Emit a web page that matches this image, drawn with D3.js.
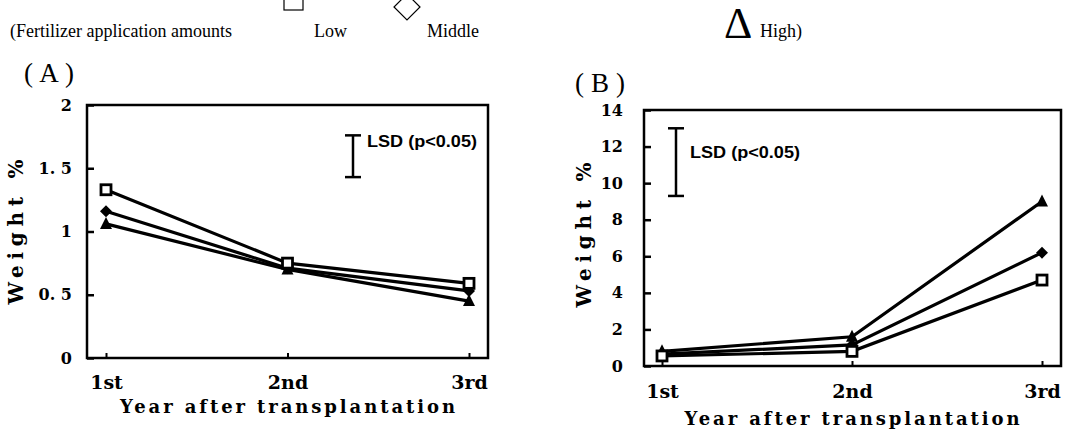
<!DOCTYPE html>
<html>
<head>
<meta charset="utf-8">
<script src="https://cdn.jsdelivr.net/npm/d3@7"></script>
<style>
  body { margin: 0; background: #fff; }
  svg { display: block; }
  .tick text { font-family: "DejaVu Serif", serif; font-weight: bold; }
</style>
</head>
<body>
<svg id="chart" width="1076" height="431"></svg>
<script>
const years = ["1st", "2nd", "3rd"];
const levels = ["Low", "Middle", "High"];

// panel A
const aLow = [1.33, 0.75, 0.59];
const aMid = [1.16, 0.71, 0.53];
const aHigh = [1.06, 0.70, 0.45];
const aTicks = [0, 0.5, 1, 1.5, 2];
const aTickLabels = ["0", "0. 5", "1", "1. 5", "2"];
const aLsd = [1.76, 1.43];

// panel B
const bLow = [0.55, 0.8, 4.7];
const bMid = [0.65, 1.15, 6.2];
const bHigh = [0.8, 1.6, 9.0];
const bTicks = [0, 2, 4, 6, 8, 10, 12, 14];
const bLsd = [13.0, 9.3];

const svg = d3.select("#chart");

// header legend
const head = svg.append("g").attr("font-family", "Liberation Serif, serif").attr("fill", "#000");
head.append("text").attr("x", 10).attr("y", 37).attr("font-size", 18).text("(Fertilizer application amounts");
head.append("rect").attr("x", 284).attr("y", -9).attr("width", 19).attr("height", 19)
  .attr("fill", "none").attr("stroke", "#000").attr("stroke-width", 1.2);
head.append("text").attr("x", 314).attr("y", 37).attr("font-size", 18).text("Low");
head.append("path").attr("d", "M407,-6 L420,7 L407,20 L394,7 Z")
  .attr("fill", "none").attr("stroke", "#000").attr("stroke-width", 1.2);
head.append("text").attr("x", 427).attr("y", 37).attr("font-size", 18).text("Middle");
head.append("text").attr("x", 724).attr("y", 38).attr("font-size", 44).text("\u0394");
head.append("text").attr("x", 760).attr("y", 37).attr("font-size", 18).text("High)");

function panel(cfg) {
  const g = svg.append("g");
  const x = d3.scalePoint().domain(years).range([cfg.px0, cfg.px1]);
  const y = d3.scaleLinear().domain(cfg.yDomain).range([cfg.bottom, cfg.top]);

  // frame
  g.append("rect")
    .attr("x", cfg.left).attr("y", cfg.top)
    .attr("width", cfg.right - cfg.left).attr("height", cfg.bottom - cfg.top)
    .attr("fill", "none").attr("stroke", "#000").attr("stroke-width", 2.5);

  // y axis, ticks pointing inward
  const yAxis = d3.axisLeft(y).tickValues(cfg.ticks)
    .tickFormat((d, i) => cfg.tickLabels[i])
    .tickSizeInner(-7).tickSizeOuter(0).tickPadding(cfg.pad);
  const ya = g.append("g").attr("transform", `translate(${cfg.left},0)`).call(yAxis);
  ya.select(".domain").remove();
  ya.selectAll(".tick line").attr("stroke-width", 2.5);
  ya.selectAll(".tick text").attr("font-size", 16);

  // x axis, small upward ticks
  const xAxis = d3.axisBottom(x).tickSizeInner(-5).tickSizeOuter(0).tickPadding(cfg.xpad);
  const xa = g.append("g").attr("transform", `translate(0,${cfg.bottom})`).call(xAxis);
  xa.select(".domain").remove();
  xa.selectAll(".tick line").attr("stroke-width", 2);
  xa.selectAll(".tick text").attr("font-size", 19);

  // axis titles
  g.append("text")
    .attr("x", (cfg.px0 + cfg.px1) / 2).attr("y", cfg.titleY)
    .attr("text-anchor", "middle")
    .attr("font-family", "DejaVu Serif, serif").attr("font-weight", "bold")
    .attr("font-size", 18).attr("textLength", 335).attr("lengthAdjust", "spacing")
    .text("Year after transplantation");
  g.append("text")
    .attr("transform", `translate(${cfg.ylabX},${cfg.ylabY}) rotate(-90)`)
    .attr("text-anchor", "middle")
    .attr("font-family", "DejaVu Serif, serif").attr("font-weight", "bold")
    .attr("font-size", 20).attr("textLength", 145).attr("lengthAdjust", "spacing")
    .text("Weight  %");

  // panel tag
  g.append("text").attr("x", cfg.tagX).attr("y", cfg.tagY)
    .attr("font-family", "Liberation Serif, serif").attr("font-size", 27)
    .attr("textLength", 50).attr("lengthAdjust", "spacing")
    .text(cfg.tag);

  // LSD bar
  const lsd = g.append("g").attr("stroke", "#000").attr("stroke-width", 2.5);
  lsd.append("line").attr("x1", cfg.lsdX).attr("x2", cfg.lsdX)
    .attr("y1", y(cfg.lsd[0])).attr("y2", y(cfg.lsd[1]));
  [0, 1].forEach(i => lsd.append("line")
    .attr("x1", cfg.lsdX - 8).attr("x2", cfg.lsdX + 8)
    .attr("y1", y(cfg.lsd[i])).attr("y2", y(cfg.lsd[i])));
  g.append("text").attr("x", cfg.lsdX + 14).attr("y", cfg.lsdTextY)
    .attr("font-family", "Liberation Sans, Arial, sans-serif").attr("font-weight", "bold")
    .attr("font-size", 17).attr("textLength", 110).attr("lengthAdjust", "spacingAndGlyphs")
    .text("LSD (p<0.05)");

  // series lines
  const line = d3.line().x((d, i) => x(years[i])).y(d => y(d));
  cfg.series.forEach(s => {
    g.append("path").datum(s.values).attr("d", line)
      .attr("fill", "none").attr("stroke", "#000").attr("stroke-width", 3.2);
  });

  // markers
  cfg.series.forEach(s => {
    const m = g.append("g");
    s.values.forEach((v, i) => {
      const cx = x(years[i]), cy = y(v);
      if (s.level === "Low") {
        m.append("rect").attr("x", cx - 5).attr("y", cy - 5).attr("width", 10).attr("height", 10)
          .attr("fill", "#fff").attr("stroke", "#000").attr("stroke-width", 2.8);
      } else if (s.level === "Middle") {
        m.append("path").attr("d", `M${cx},${cy - 6}L${cx + 6},${cy}L${cx},${cy + 6}L${cx - 6},${cy}Z`)
          .attr("fill", "#000");
      } else {
        m.append("path").attr("d", `M${cx},${cy - 7}L${cx + 6},${cy + 5}L${cx - 6},${cy + 5}Z`)
          .attr("fill", "#000");
      }
    });
  });
}

panel({
  tag: "(A)", tagX: 24, tagY: 82,
  left: 87, right: 488, top: 105, bottom: 358,
  px0: 106, px1: 469, yDomain: [0, 2],
  ticks: aTicks, tickLabels: aTickLabels, pad: 15, xpad: 18,
  titleY: 413, ylabX: 23, ylabY: 232,
  lsd: aLsd, lsdX: 353, lsdTextY: 147,
  series: [
    { level: "High", values: aHigh },
    { level: "Middle", values: aMid },
    { level: "Low", values: aLow }
  ]
});

panel({
  tag: "(B)", tagX: 575, tagY: 92,
  left: 644, right: 1061, top: 110, bottom: 366,
  px0: 662, px1: 1042, yDomain: [0, 14],
  ticks: bTicks, tickLabels: bTicks.map(String), pad: 21, xpad: 19,
  titleY: 425, ylabX: 591, ylabY: 235,
  lsd: bLsd, lsdX: 676, lsdTextY: 158,
  series: [
    { level: "High", values: bHigh },
    { level: "Middle", values: bMid },
    { level: "Low", values: bLow }
  ]
});
</script>
</body>
</html>
